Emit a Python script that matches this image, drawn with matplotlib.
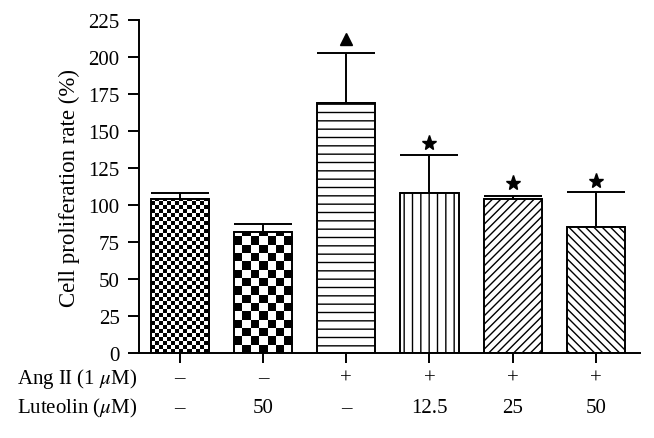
import numpy as np
import matplotlib
matplotlib.use('Agg')
import matplotlib.pyplot as plt
import matplotlib.transforms as mtransforms

plt.rcParams['font.family'] = ['Liberation Serif', 'DejaVu Serif']
plt.rcParams['mathtext.fontset'] = 'stix'
plt.rcParams['hatch.linewidth'] = 1.0

# data
values = [104, 82, 169, 108, 104, 85]
errors = [4, 5, 34, 26, 2, 24]
ang_ii = ['\u2013', '\u2013', '+', '+', '+', '+']
luteolin = ['\u2013', '50', '\u2013', '12.5', '25', '50']
marks = [None, None, '^', '*', '*', '*']
mark_y = [None, None, 212, 142, 115, 116]
hatches = [None, None, '--', '||', '////', '\\\\\\\\']
checker_px = [4.0, 8.3, None, None, None, None]   # checkerboard cell size in pixels

fs = 15

fig = plt.figure(figsize=(6.54, 4.39), dpi=100)
ax = fig.add_axes([0.2125, 0.1936, 0.7661, 0.7585])

x = np.arange(len(values))
width = 0.70
faces = ['none' if c else 'white' for c in checker_px]
bars = ax.bar(x, values, width, color=faces, edgecolor='black', linewidth=1.4, zorder=2)
for b, h in zip(bars, hatches):
    if h:
        b.set_hatch(h)

ax.errorbar(x, values, yerr=[[0] * len(values), errors], fmt='none', ecolor='black',
            elinewidth=1.4, capsize=21, capthick=1.4, zorder=1)

xlim = (-0.49, 5.53)
ylim = (0, 225)

# checkerboard fills (drawn as images clipped to the bars)
px_per_x = ax.get_position().width * 654 / (xlim[1] - xlim[0])
px_per_y = ax.get_position().height * 439 / (ylim[1] - ylim[0])
for b, cell in zip(bars, checker_px):
    if cell is None:
        continue
    x0 = b.get_x()
    w = b.get_width()
    h = b.get_height()
    nx = int(np.ceil(w * px_per_x / cell))
    ny = int(np.ceil(h * px_per_y / cell))
    img = np.indices((ny, nx)).sum(axis=0) % 2
    im = ax.imshow(img, cmap='gray_r', interpolation='nearest', aspect='auto',
                   extent=(x0, x0 + nx * cell / px_per_x, 0, ny * cell / px_per_y),
                   origin='lower', zorder=1.5)
    im.set_clip_path(b)
ax.set_xlim(*xlim)
ax.set_ylim(*ylim)

for xi, m, my in zip(x, marks, mark_y):
    if m:
        ax.plot(xi, my, marker=m, color='black', markersize=11 if m == '*' else 9,
                linestyle='none', clip_on=False, zorder=3)

ax.spines['top'].set_visible(False)
ax.spines['right'].set_visible(False)
ax.spines['left'].set_linewidth(1.4)
ax.spines['bottom'].set_linewidth(1.4)
ax.set_yticks(np.arange(0, 226, 25))
ax.tick_params(axis='y', length=8, width=1.4, labelsize=fs, pad=6)
ax.set_xticks(x)
ax.set_xticklabels([])
ax.tick_params(axis='x', length=7, width=1.4)
ax.set_ylabel('Cell proliferation rate (%)', fontsize=16.5, labelpad=6)

trans = mtransforms.blended_transform_factory(ax.transData, ax.transAxes)
for xi, a, l in zip(x, ang_ii, luteolin):
    ax.text(xi, -0.075, a, transform=trans, ha='center', va='center', fontsize=fs)
    ax.text(xi, -0.165, l, transform=trans, ha='center', va='center', fontsize=fs)
ax.text(-0.004, -0.075, 'Ang II (1 $\\mu$M)', transform=ax.transAxes, ha='right',
        va='center', fontsize=fs)
ax.text(-0.004, -0.165, 'Luteolin ($\\mu$M)', transform=ax.transAxes, ha='right',
        va='center', fontsize=fs)

fig.savefig('out.png', dpi=100)
